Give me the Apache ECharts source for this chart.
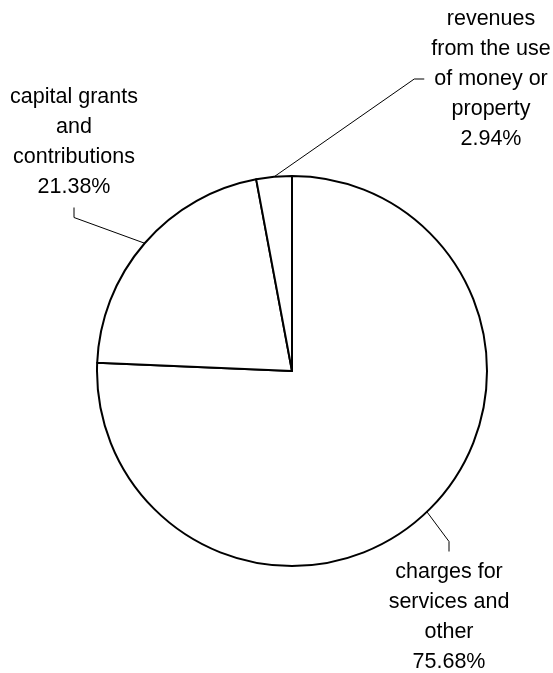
<!DOCTYPE html>
<html>
<head>
<meta charset="utf-8">
<script src="https://cdn.jsdelivr.net/npm/echarts@6/dist/echarts.min.js"></script>
<style>
html,body{margin:0;padding:0;background:#fff;}
#chart{width:553px;height:673px;}
</style>
</head>
<body>
<div id="chart"></div>
<script>
var categories = [
  'charges for\nservices and\nother',
  'capital grants\nand\ncontributions',
  'revenues\nfrom the use\nof money or\nproperty'
];
var values = [75.68, 21.38, 2.94];

// label anchor positions (layout, not data)
var labelPos = [
  {x: 449, y: 617},
  {x: 74, y: 142},
  {x: 491, y: 79}
];

var chart = echarts.init(document.getElementById('chart'));
chart.setOption({
  animation: false,
  backgroundColor: '#ffffff',
  series: [{
    type: 'pie',
    center: [292, 371],
    radius: 195,
    startAngle: 90,
    clockwise: true,
    avoidLabelOverlap: false,
    silent: true,
    data: categories.map(function (c, i) { return {name: c, value: values[i]}; }),
    itemStyle: {color: '#ffffff', borderColor: '#000000', borderWidth: 2},
    label: {
      show: true,
      position: 'outside',
      formatter: '{b}\n{d}%',
      fontFamily: 'Liberation Sans, Arial, sans-serif',
      fontSize: 21.5,
      lineHeight: 30,
      color: '#000000',
      align: 'center',
      padding: [4, 7, 7, 7]
    },
    labelLine: {
      show: true,
      length: 20,
      length2: 10,
      smooth: false,
      lineStyle: {color: '#000000', width: 1}
    },
    labelLayout: function (params) {
      var p = labelPos[params.dataIndex];
      return {x: p.x, y: p.y, align: 'center', verticalAlign: 'middle'};
    },
    emphasis: {disabled: true}
  }]
});
</script>
</body>
</html>
